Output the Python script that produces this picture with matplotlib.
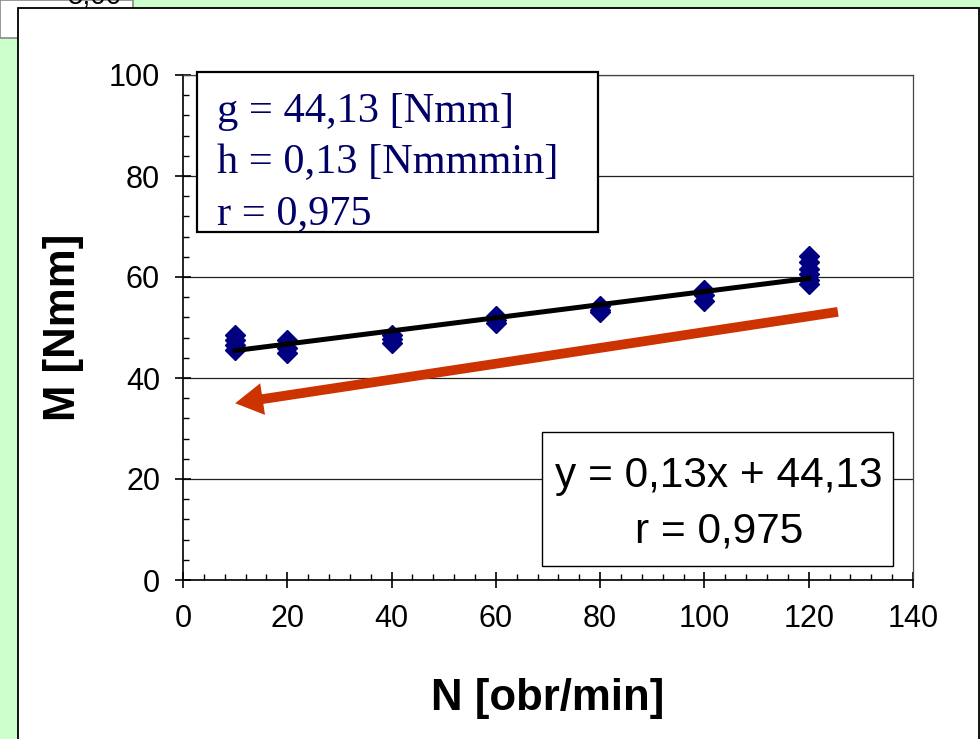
import matplotlib
matplotlib.use('Agg')
import matplotlib.pyplot as plt
from matplotlib.patches import Rectangle, FancyArrowPatch
from matplotlib.ticker import MultipleLocator

# measured torque M [Nmm] at each speed N [obr/min]
N_10 = [45.6, 46.5, 47.5, 48.6]
N_20 = [45.0, 46.0, 47.5]
N_40 = [47.0, 47.8, 48.5]
N_60 = [50.8, 51.5, 52.3]
N_80 = [53.0, 53.5, 54.2]
N_100 = [55.3, 56.5, 57.4]
N_120 = [58.7, 59.5, 60.5, 61.5, 63.0, 64.2]
speeds = [10, 20, 40, 60, 80, 100, 120]
torques = [N_10, N_20, N_40, N_60, N_80, N_100, N_120]

# fit y = h*x + g
g = 44.13
h = 0.13
fit_x = [10, 120]
arrow_from = (125.6, 53.1)
arrow_to = (10, 35)

param_lines = ['g = 44,13 [Nmm]', 'h = 0,13 [Nmmmin]', 'r = 0,975']
eq_lines = ['y = 0,13x + 44,13', 'r = 0,975']

xs = [n for n, t in zip(speeds, torques) for _ in t]
ys = [v for t in torques for v in t]

W, H = 980, 739
fig = plt.figure(figsize=(W / 100, H / 100), dpi=100)
fig.patch.set_facecolor('#CCFFCC')


def fx(px):
    return px / W


def fy(py):
    return 1 - py / H


# bits of neighbouring charts behind
fig.patches.append(Rectangle((0, fy(38)), fx(133), 38 / H, transform=fig.transFigure,
                             facecolor='white', edgecolor='#888888', lw=1.2, zorder=0))
fig.text(fx(95), fy(-4), '5,00', fontsize=20, family='Liberation Sans',
         ha='center', va='center', zorder=1)
fig.patches.append(Rectangle((fx(18), -0.01), 1 - fx(18) - fx(1), fy(8) + 0.01,
                             transform=fig.transFigure, facecolor='white',
                             edgecolor='black', lw=1.3, zorder=2))

x0, x1, y0, y1 = 183, 913, 75, 580
ax = fig.add_axes([fx(x0), fy(y1), (x1 - x0) / W, (y1 - y0) / H], zorder=3)
ax.set_facecolor('none')

ax.set_xlim(0, 140)
ax.set_ylim(0, 100)
ax.xaxis.set_major_locator(MultipleLocator(20))
ax.xaxis.set_minor_locator(MultipleLocator(4))
ax.yaxis.set_major_locator(MultipleLocator(20))
ax.yaxis.set_minor_locator(MultipleLocator(4))
ax.tick_params(which='major', direction='inout', length=11, width=1.2, labelsize=22)
ax.tick_params(axis='x', which='major', pad=12)
ax.tick_params(axis='y', which='major', pad=11)
ax.tick_params(which='minor', direction='in', length=4.5, width=1.0)
for lab in ax.get_xticklabels() + ax.get_yticklabels():
    lab.set_family('Liberation Sans')
ax.grid(axis='y', which='major', color='#222222', lw=0.9)
for s in ['top', 'right']:
    ax.spines[s].set_color('#444444')
    ax.spines[s].set_linewidth(0.9)
for s in ['left', 'bottom']:
    ax.spines[s].set_linewidth(1.2)

ax.plot(xs, ys, linestyle='none', marker='D', ms=9.8, color='#000080', zorder=4)
ax.plot(fit_x, [h * v + g for v in fit_x], color='black', lw=3.6, zorder=5)

arr = FancyArrowPatch(arrow_from, arrow_to,
                      arrowstyle='simple,head_length=20,head_width=23,tail_width=7',
                      mutation_scale=1, shrinkA=0, shrinkB=0,
                      color='#CC3300', lw=0, zorder=5)
ax.add_patch(arr)

ax.set_xlabel('N [obr/min]', fontsize=31.5, fontweight='bold', family='Liberation Sans')
ax.set_ylabel('M [Nmm]', fontsize=31.5, fontweight='bold', family='Liberation Sans')
ax.xaxis.set_label_coords(0.5, (y1 - 678) / (y1 - y0))
ax.yaxis.set_label_coords((84 - x0) / (x1 - x0), 0.5)

# parameter box (top left)
fig.patches.append(Rectangle((fx(197), fy(232)), (598 - 197) / W, (232 - 72) / H,
                             transform=fig.transFigure, facecolor='white',
                             edgecolor='black', lw=1.6, zorder=6))
for txt, base in zip(param_lines, [122, 173, 224]):
    fig.text(fx(217), fy(base), txt, fontsize=30.5, family='Liberation Serif',
             color='#000066', ha='left', va='baseline', zorder=7)

# regression box (bottom right)
fig.patches.append(Rectangle((fx(542), fy(566)), (893 - 542) / W, (566 - 432) / H,
                             transform=fig.transFigure, facecolor='white',
                             edgecolor='black', lw=1.0, zorder=6))
for txt, base in zip(eq_lines, [487, 543]):
    fig.text(fx(719), fy(base), txt, fontsize=30.5, family='Liberation Sans',
             color='black', ha='center', va='baseline', zorder=7)

fig.savefig('out.png', dpi=100, facecolor=fig.get_facecolor())
